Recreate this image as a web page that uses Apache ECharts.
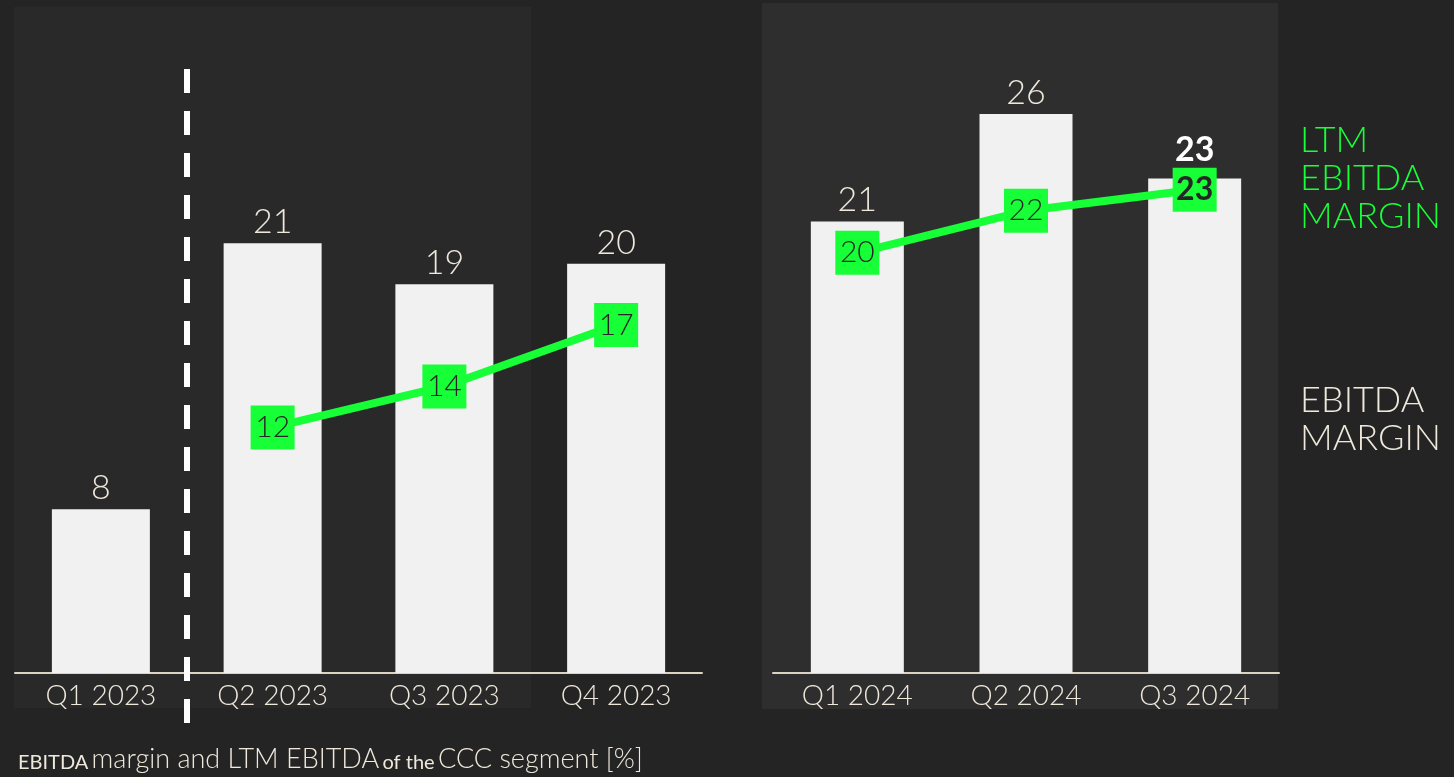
<!DOCTYPE html>
<html>
<head>
<meta charset="utf-8">
<script src="https://cdn.jsdelivr.net/npm/echarts@6/dist/echarts.min.js"></script>
<style>
  html, body { margin: 0; padding: 0; background: #242424; }
  #chart { width: 1454px; height: 777px; }
</style>
</head>
<body>
<div id="chart"></div>
<script>
// Quarterly figures for the CCC segment, in percent
const quarters2023 = ['Q1 2023', 'Q2 2023', 'Q3 2023', 'Q4 2023'];
const margin2023 = [8, 21, 19, 20];
const ltm2023 = [null, 12, 14, 17];

const quarters2024 = ['Q1 2024', 'Q2 2024', 'Q3 2024'];
const margin2024 = [21, 26, 23];
const ltm2024 = [20, 22, 23];

const FONT = 'Lato, "Noto Sans", sans-serif';
const CREAM = '#efe9dc';
const BAR = '#f1f1f1';
const GREEN = '#17ff37';
const DARK = '#262626';

const chart = echarts.init(document.getElementById('chart'), null, { renderer: 'canvas' });

function catAxis(gridIndex, data) {
  return {
    type: 'category', gridIndex, data,
    axisLine: { show: true, lineStyle: { color: '#dcd3c2', width: 2 } },
    axisTick: { show: false },
    axisLabel: { color: CREAM, fontSize: 28, fontFamily: FONT, fontWeight: 300, margin: 9 }
  };
}
function valAxis(gridIndex, max) {
  return {
    type: 'value', gridIndex, min: 0, max,
    show: false, splitLine: { show: false }
  };
}
function barSeries(axis, values, boldLast) {
  return {
    type: 'bar', xAxisIndex: axis.x, yAxisIndex: axis.y, z: 2,
    barWidth: axis.x === 0 ? 98 : 93,
    itemStyle: { color: BAR },
    label: {
      show: true, position: 'top', distance: 4,
      color: CREAM, fontSize: 34, fontFamily: FONT, fontWeight: 300
    },
    data: values.map((v, i) => boldLast && i === values.length - 1
      ? { value: v, label: { fontWeight: 'bold', color: '#ffffff', distance: 11 } }
      : v)
  };
}
function lineSeries(axis, values, boldLast) {
  return {
    type: 'line', xAxisIndex: axis.x, yAxisIndex: axis.y, z: 5,
    symbol: 'rect', symbolSize: 44, showAllSymbol: true,
    lineStyle: { color: GREEN, width: 8 },
    itemStyle: { color: GREEN },
    connectNulls: false,
    label: {
      show: true, position: 'inside',
      color: DARK, fontSize: 30, fontFamily: FONT, fontWeight: 300
    },
    emphasis: { disabled: true },
    data: values.map((v, i) => boldLast && i === values.length - 1
      ? { value: v, label: { fontWeight: 'bold', fontSize: 32 } }
      : v)
  };
}

chart.setOption({
  backgroundColor: '#242424',
  animation: false,
  grid: [
    { left: 15, width: 687, top: 59, height: 614 },
    { left: 773, width: 506, top: 28, height: 645 }
  ],
  xAxis: [catAxis(0, quarters2023), catAxis(1, quarters2024)],
  yAxis: [valAxis(0, 30), valAxis(1, 30), valAxis(1, 30.7)],
  series: [
    barSeries({ x: 0, y: 0 }, margin2023, false),
    lineSeries({ x: 0, y: 0 }, ltm2023, false),
    barSeries({ x: 1, y: 1 }, margin2024, true),
    lineSeries({ x: 1, y: 2 }, ltm2024, true)
  ]
});

// Panels, divider, side legend and caption
const p0 = chart.convertToPixel({ xAxisIndex: 0 }, 0);
const p1 = chart.convertToPixel({ xAxisIndex: 0 }, 1);
const dividerX = Math.round((p0 + p1) / 2);

chart.setOption({
  graphic: [
    { type: 'rect', z: -10, silent: true, shape: { x: 14, y: 7, width: 517, height: 701 }, style: { fill: '#292929' } },
    { type: 'rect', z: -10, silent: true, shape: { x: 762, y: 3, width: 516, height: 706 }, style: { fill: '#2e2e2e' } },
    { type: 'line', z: 10, silent: true,
      shape: { x1: dividerX, y1: 69, x2: dividerX, y2: 723 },
      style: { stroke: '#ffffff', lineWidth: 6, lineDash: [24, 18] } },
    { type: 'text', z: 10, left: 1300, top: 121, silent: true,
      style: { text: 'LTM\nEBITDA\nMARGIN', fill: GREEN, font: '300 36px ' + FONT, lineHeight: 38 } },
    { type: 'text', z: 10, left: 1300, top: 381, silent: true,
      style: { text: 'EBITDA\nMARGIN', fill: CREAM, font: '300 36px ' + FONT, lineHeight: 38 } },
    { type: 'text', z: 10, left: 18, top: 746, silent: true,
      style: {
        text: '{s|EBITDA} {m|margin and LTM EBITDA} {s|of the} {m|CCC segment [%]}',
        rich: {
          s: { fontSize: 20, fontFamily: FONT, fontWeight: 400, fill: CREAM, verticalAlign: 'bottom' },
          m: { fontSize: 27, fontFamily: FONT, fontWeight: 300, fill: CREAM, verticalAlign: 'bottom' }
        }
      } }
  ]
});
</script>
</body>
</html>
